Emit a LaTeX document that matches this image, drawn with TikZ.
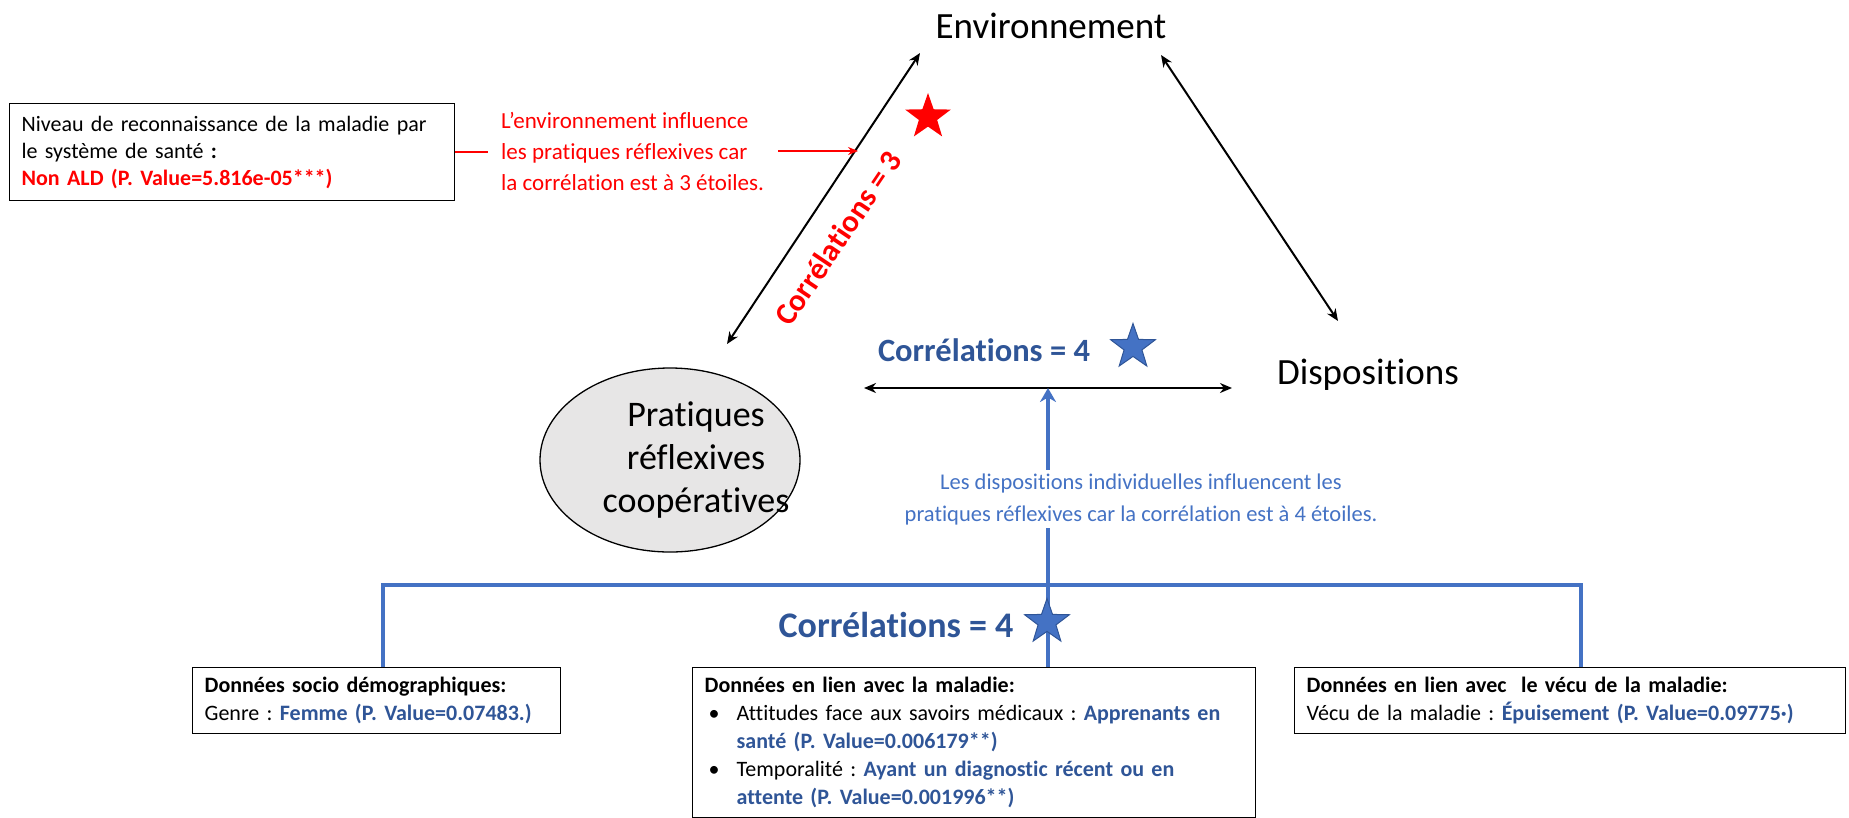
\documentclass[tikz,border=0pt]{standalone}
\usepackage{fontspec}
\setmainfont[Ligatures=NoCommon]{Carlito}
\usetikzlibrary{arrows.meta,shapes.geometric}

\definecolor{accblue}{HTML}{4472C4}
\definecolor{darkblue}{HTML}{2F5597}
\definecolor{paleGray}{HTML}{E7E6E6}
\newcommand{\fsz}[2]{\fontsize{#1}{#2}\selectfont}
\frenchspacing

\begin{document}
\begin{tikzpicture}[
  x=1pt, y=-1pt,
  >={Stealth[length=12pt,width=10pt]},
  font=\fsz{22}{28},
  databox/.style={draw, line width=1.3pt, anchor=north west, inner xsep=12pt, align=left},
  corrtxt/.style={font=\bfseries\fsz{31}{36}},
  linkarrow/.style={<->, line width=2pt},
  bluebar/.style={draw=accblue, line width=4pt},
  starmark/.style={star, star points=5, star point ratio=2.5, inner sep=0pt, minimum size=48pt},
]
\useasboundingbox (0,0) rectangle (1849,817);

% --- Main concepts ---
\node[font=\fsz{37}{43}] (env) at (1051,26) {Environnement};
\node[font=\fsz{37}{43}] (disp) at (1368,375) {Dispositions};
\node[ellipse, draw, line width=1.3pt, fill=paleGray, inner sep=0pt,
      minimum width=260pt, minimum height=184pt] (prat) at (670,460) {};
\node[align=center, font=\fsz{36}{43}] (pratTxt) at ([xshift=26pt]prat.center)
  {Pratiques\\réflexives\\coopératives};

% --- Arrow ends ---
\coordinate (envL) at (920,53);
\coordinate (envR) at (1161,55);
\coordinate (pratT) at (727,344);
\coordinate (dispT) at (1338,321);
\coordinate (hL) at (864,388);
\coordinate (hR) at (1232,388);
\coordinate (hMid) at (1048,388);

\draw[linkarrow] (pratT) -- (envL);
\draw[linkarrow] (envR) -- (dispT);
\draw[linkarrow] (hL) -- (hR);

% --- Environnement -> pratiques (3 stars) ---
\node[databox, text width=421pt, minimum height=97pt, font=\fsz{22}{27}] (niv) at (9,103)
  {Niveau de reconnaissance de la maladie par\\
   le système de santé \textbf{:}\\
   \textcolor{red}{\textbf{Non ALD (P. Value=5.816e-05***)}}};
\node[red, align=left, anchor=west, inner xsep=0pt, font=\fsz{23}{31}] (callout) at (501,151)
  {L’environnement influence\\les pratiques réflexives car\\la corrélation est à 3 étoiles.};
\draw[red, line width=1.5pt] (niv.east) -- ++(33,0);
\coordinate (redTail) at (778,151);
\coordinate (redTip) at (858,151);
\draw[red, line width=1.5pt, -{Stealth[length=10pt,width=8pt]}] (redTail) -- (redTip);
\node[corrtxt, text=red, rotate=56] (c3) at (838,238) {Corrélations = 3};
\node[starmark, fill=red] (s3) at (928,117) {};

% --- Dispositions -> pratiques (4 stars) ---
\node[corrtxt, text=darkblue, font=\bfseries\fsz{32.5}{36}] (c4a) at (984,350) {Corrélations = 4};
\node[starmark, fill=accblue, draw=darkblue, line width=1pt, minimum size=47pt] (s4a) at (1133,347) {};

\node[text=accblue, align=center, font=\fsz{22.5}{32}] (indiv) at (1141,499)
  {Les dispositions individuelles influencent les\\pratiques réflexives car la corrélation est à 4 étoiles.};

% --- Data boxes ---
\node[databox, text width=344pt, minimum height=66pt] (b1) at (192,667)
  {\textbf{Données socio démographiques:}\\
   Genre : \textcolor{darkblue}{\textbf{Femme (P. Value=0.07483.)}}};
\node[databox, text width=539pt, minimum height=150pt] (b2) at (692,667)
  {\textbf{Données en lien avec la maladie:}\\
   \makebox[32pt][l]{\hspace{4pt}\textbullet}Attitudes face aux savoirs médicaux : \textcolor{darkblue}{\textbf{Apprenants en}}\\
   \hspace*{32pt}\textcolor{darkblue}{\textbf{santé (P. Value=0.006179**)}}\\
   \makebox[32pt][l]{\hspace{4pt}\textbullet}Temporalité : \textcolor{darkblue}{\textbf{Ayant un diagnostic récent ou en}}\\
   \hspace*{32pt}\textcolor{darkblue}{\textbf{attente (P. Value=0.001996**)}}};
\node[databox, text width=527pt, minimum height=66pt] (b3) at (1294,667)
  {\textbf{Données en lien avec\ \ le vécu de la maladie:}\\
   Vécu de la maladie : \textcolor{darkblue}{\textbf{Épuisement (P. Value=0.09775·)}}};

% --- Blue bracket ---
\coordinate (vL) at (383,667);
\coordinate (barR) at (1581,585);
\coordinate (vR) at (1581,667);
\coordinate (vMid) at (1048,667);
\draw[bluebar] (vL) |- (barR) -- (vR);
\draw[bluebar] (vMid) -- (vMid |- indiv.south);
\draw[bluebar, -{Stealth[length=14pt,width=16pt]}] (hMid |- indiv.north) -- (hMid);

\node[corrtxt, text=darkblue, font=\bfseries\fsz{36}{40}] (c4b) at (896,625) {Corrélations = 4};
\node[starmark, fill=accblue, draw=darkblue, line width=1pt, minimum size=47pt] (s4b) at (1047,622) {};

\end{tikzpicture}
\end{document}
